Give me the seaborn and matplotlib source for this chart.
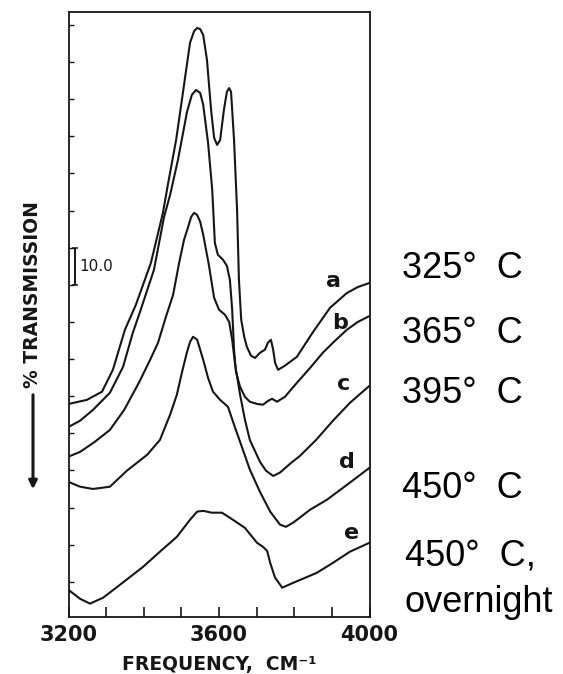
import numpy as np
import pandas as pd
import matplotlib
matplotlib.use("Agg")
import matplotlib.pyplot as plt
import seaborn as sns

# ---------------- data ----------------
freq_a = [3200, 3249, 3289, 3318, 3350, 3379, 3419, 3451, 3464, 3486, 3504, 3523, 3534, 3542, 3550,
          3558, 3568, 3579, 3587, 3595, 3603, 3613, 3621, 3627, 3632, 3640, 3648, 3653, 3659, 3667,
          3674, 3685, 3696, 3709, 3722, 3730, 3738, 3744, 3749, 3757, 3775, 3807, 3850, 3895, 3940,
          3969, 4000]
trans_a = [57.9, 59.0, 61.2, 67.1, 77.9, 84.6, 95.9, 109.4, 116.9, 129.0, 141.7, 155.2, 158.4, 159.2, 158.9,
           157.3, 150.6, 137.1, 129.6, 127.7, 129.0, 137.1, 142.0, 143.0, 142.0, 129.0, 110.2, 91.3, 80.6, 76.0,
           73.3, 70.9, 70.3, 71.7, 72.5, 74.4, 75.2, 72.5, 69.0, 67.1, 68.2, 70.6, 77.3, 83.8, 87.8,
           89.4, 90.5]

freq_b = [3200, 3231, 3265, 3310, 3345, 3371, 3390, 3427, 3454, 3470, 3491, 3515, 3528, 3539, 3550,
          3558, 3571, 3582, 3589, 3597, 3611, 3621, 3629, 3635, 3640, 3645, 3656, 3669, 3682, 3701,
          3717, 3730, 3741, 3754, 3775, 3807, 3842, 3876, 3908, 3940, 3969, 4000]
trans_b = [51.7, 53.4, 56.3, 60.9, 67.9, 77.1, 82.7, 94.0, 108.3, 114.2, 123.7, 136.6, 141.2, 142.5, 141.7,
           138.5, 128.2, 115.6, 101.3, 98.1, 96.7, 95.1, 91.3, 83.3, 72.5, 66.6, 62.5, 59.8, 58.5, 57.9,
           57.7, 58.7, 59.3, 58.5, 59.8, 63.6, 67.6, 71.7, 74.9, 77.9, 80.0, 81.6]

freq_c = [3200, 3231, 3270, 3310, 3348, 3387, 3417, 3438, 3459, 3478, 3494, 3507, 3518, 3526, 3534,
          3542, 3550, 3558, 3573, 3587, 3600, 3616, 3627, 3635, 3643, 3656, 3669, 3682, 3709, 3725,
          3744, 3762, 3789, 3815, 3858, 3903, 3948, 4000]
trans_c = [43.7, 45.0, 47.7, 50.9, 56.3, 63.6, 69.8, 74.4, 81.4, 87.3, 95.9, 102.1, 105.6, 108.3, 109.4,
           108.8, 107.0, 103.5, 95.4, 86.5, 83.3, 81.9, 80.0, 75.2, 68.4, 60.4, 53.6, 48.2, 42.3, 39.9,
           38.5, 39.4, 41.8, 43.9, 48.2, 53.4, 58.2, 62.8]

freq_d = [3200, 3231, 3265, 3310, 3355, 3409, 3443, 3470, 3488, 3502, 3515, 3523, 3531, 3542, 3558,
          3571, 3584, 3603, 3624, 3640, 3656, 3682, 3709, 3736, 3762, 3778, 3797, 3842, 3887, 3940,
          4000]
trans_d = [36.9, 35.6, 35.0, 35.6, 39.9, 44.2, 48.2, 55.0, 60.4, 66.6, 71.9, 74.6, 76.0, 75.2, 69.8,
           64.9, 61.2, 59.0, 57.1, 52.3, 47.7, 40.2, 34.2, 28.9, 25.4, 24.8, 25.9, 29.4, 32.1, 36.1,
           40.7]

freq_e = [3200, 3231, 3257, 3292, 3337, 3398, 3443, 3488, 3523, 3542, 3558, 3581, 3608, 3637, 3669,
          3701, 3717, 3728, 3736, 3749, 3768, 3797, 3860, 3903, 3948, 4000]
trans_e = [7.8, 5.4, 4.1, 5.7, 9.2, 14.0, 18.1, 22.1, 26.7, 28.9, 29.1, 28.6, 28.6, 26.7, 24.5,
           20.5, 19.4, 18.3, 15.1, 11.1, 8.4, 9.7, 12.4, 15.1, 18.1, 20.5]

curve_names = ["a", "b", "c", "d", "e"]
temperature_labels = ["325°  C", "365°  C", "395°  C", "450°  C", "450°  C,", "overnight"]
x_ticks = [3200, 3300, 3400, 3500, 3600, 3700, 3800, 3900, 4000]
x_tick_labels = ["3200", "", "", "", "3600", "", "", "", "4000"]
y_ticks = [10, 20, 30, 40, 50, 60, 70, 80, 90, 100, 110, 120, 130, 140, 150, 160]
scale_bar = [90.0, 100.0]
scale_label = "10.0"

# ---------------- build table ----------------
frames = []
for name, fx_, ty_ in zip(curve_names,
                          [freq_a, freq_b, freq_c, freq_d, freq_e],
                          [trans_a, trans_b, trans_c, trans_d, trans_e]):
    frames.append(pd.DataFrame({"freq": fx_, "trans": ty_, "sample": name}))
df = pd.concat(frames, ignore_index=True)

# ---------------- style ----------------
sns.set_style("ticks")
plt.rcParams["font.family"] = ["DejaVu Sans"]

W, H = 563, 674
fig = plt.figure(figsize=(W / 100, H / 100), dpi=100)
ax = fig.add_axes([68.5 / W, 57 / H, 301 / W, 605 / H])

ink = "#161616"
sns.lineplot(data=df, x="freq", y="trans", hue="sample", units="sample",
             estimator=None, sort=False, palette=[ink] * 5, legend=False,
             linewidth=1.5, ax=ax)

ax.set_xlim(3200, 4000)
ax.set_ylim(0.5, 163.5)
ax.set_xlabel("")
ax.set_ylabel("")

ax.set_xticks(x_ticks)
ax.set_xticklabels(x_tick_labels, fontsize=15, fontweight="bold")
ax.set_yticks(y_ticks)
ax.set_yticklabels([])
ax.tick_params(axis="x", direction="in", length=7, width=1.2, pad=6, colors=ink)
ax.tick_params(axis="y", direction="in", length=3.5, width=1.0, colors=ink)
for s in ax.spines.values():
    s.set_linewidth(1.3)
    s.set_color(ink)

# scale bar
sb_x = 3216
ax.plot([sb_x, sb_x], scale_bar, color=ink, lw=1.4, solid_capstyle="butt")
ax.plot([sb_x, sb_x], scale_bar, color=ink, lw=0, marker="_", markersize=5, markeredgewidth=1.1)
ax.text(3230, np.mean(scale_bar), scale_label, fontsize=11, va="center", ha="left", color=ink)

# curve letters
letter_pos = [(3903, 91.1), (3922, 79.8), (3930, 63.3), (3940, 42.3), (3951, 23.2)]
for name, (lx, ly) in zip(curve_names, letter_pos):
    ax.text(lx, ly, name, fontsize=16, fontweight="bold", ha="center", va="center", color=ink)

def fx(px):
    return px / W

def fy(py):
    return 1 - py / H

# axis labels
fig.text(fx(219), fy(670), "FREQUENCY,  CM⁻¹", fontsize=13.5, fontweight="bold",
         ha="center", va="baseline", color=ink)
fig.text(fx(33), fy(295), "% TRANSMISSION", fontsize=13.5, fontweight="bold",
         rotation=90, ha="center", va="center", color=ink)
ax.annotate("", xy=(fx(33), fy(492)), xytext=(fx(33), fy(392)),
            xycoords="figure fraction", textcoords="figure fraction",
            arrowprops=dict(arrowstyle="-|>", lw=2.2, color=ink, mutation_scale=12))

# temperature labels on the right
label_x = [402, 402, 402, 402, 405, 405]
label_base = [278, 343, 403, 498, 565, 612]
for t, lx, ly in zip(temperature_labels, label_x, label_base):
    fig.text(fx(lx), fy(ly), t, fontsize=26, family=["Liberation Sans", "DejaVu Sans"],
             ha="left", va="baseline", color="black")

fig.savefig("out.png", dpi=100)
